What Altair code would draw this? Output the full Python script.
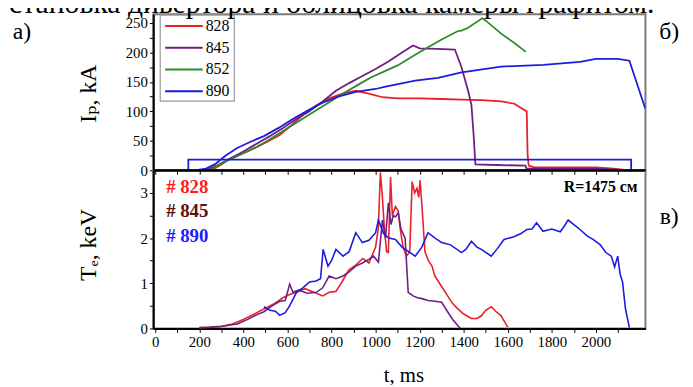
import altair as alt
import pandas as pd

# ---------------- data: plasma current Ip, kA ----------------
ip_828_t = [255, 300, 340, 400, 448, 500, 565, 620, 673, 730, 789, 850, 910, 969, 1031, 1100, 1200, 1300, 1390, 1480, 1570, 1630, 1659, 1686, 1690, 1695, 1720, 1800, 1900, 2000, 2080, 2150]
ip_828_v = [0, 10, 20, 29, 37, 47, 60, 77, 95, 110, 122, 130, 135, 130, 124, 122, 122, 121, 120, 119, 117, 113, 106, 100, 27, 8, 5, 5, 5, 5, 3, 0]

ip_845_t = [230, 280, 340, 400, 460, 520, 580, 640, 700, 760, 820, 880, 940, 1000, 1060, 1120, 1170, 1200, 1280, 1360, 1390, 1420, 1435, 1445, 1453, 1550, 1680, 1685, 1800, 2000, 2100]
ip_845_v = [0, 8, 20, 32, 45, 58, 72, 87, 100, 117, 135, 148, 160, 172, 185, 200, 212, 207, 206, 205, 175, 135, 111, 60, 10, 9, 8, 3, 3, 3, 1]

ip_852_t = [250, 300, 350, 400, 450, 500, 560, 620, 680, 740, 800, 860, 920, 980, 1040, 1100, 1180, 1238, 1300, 1372, 1390, 1420, 1484, 1500, 1570, 1630, 1682]
ip_852_v = [0, 12, 20, 29, 38, 48, 62, 76, 90, 104, 118, 132, 145, 158, 168, 178, 196, 209, 222, 236, 237, 242, 258, 254, 232, 216, 201]

ip_890_t = [180, 230, 270, 320, 372, 430, 493, 560, 628, 700, 762, 830, 910, 1000, 1045, 1180, 1283, 1390, 1500, 1570, 1762, 1928, 2000, 2100, 2152, 2224]
ip_890_v = [0, 3, 10, 25, 38, 48, 58, 72, 88, 103, 115, 125, 133, 138, 142, 152, 157, 166, 172, 176, 179, 184, 189, 189, 186, 105]

ip_890_box_t = [150, 150, 2160, 2160]
ip_890_box_v = [0, 18, 18, 0]

# ---------------- data: electron temperature Te, keV ----------------
te_828_t = [200, 250, 300, 350, 400, 450, 500, 540, 580, 610, 640, 680, 720, 760, 790, 820, 850, 879, 910, 942, 970, 1000, 1012, 1022, 1031, 1040, 1050, 1058, 1068, 1076, 1090, 1103, 1112, 1125, 1140, 1155, 1166, 1177, 1188, 1196, 1202, 1212, 1224, 1240, 1256, 1269, 1290, 1310, 1327, 1350, 1372, 1400, 1435, 1460, 1480, 1500, 1525, 1545, 1570, 1585, 1600]
te_828_v = [0, 0.02, 0.04, 0.1, 0.2, 0.32, 0.45, 0.55, 0.68, 0.75, 0.8, 0.88, 0.8, 0.72, 0.8, 0.82, 1.05, 1.3, 1.4, 1.55, 1.45, 1.8, 2.2, 3.45, 2.9, 2.2, 1.7, 1.68, 3.35, 2.5, 2.7, 2.6, 2.2, 1.8, 1.6, 1.7, 3.25, 3.0, 3.1, 2.9, 3.28, 2.6, 1.7, 1.5, 1.38, 1.16, 1.0, 0.85, 0.72, 0.55, 0.44, 0.32, 0.22, 0.22, 0.28, 0.4, 0.48, 0.38, 0.28, 0.15, 0.03]

te_845_t = [200, 250, 300, 372, 420, 460, 493, 530, 565, 590, 610, 625, 650, 690, 731, 760, 789, 820, 852, 880, 910, 940, 969, 990, 1013, 1031, 1045, 1058, 1070, 1080, 1090, 1103, 1115, 1134, 1148, 1170, 1190, 1211, 1238, 1270, 1300, 1327, 1350, 1372, 1385]
te_845_v = [0.02, 0.03, 0.05, 0.1, 0.2, 0.3, 0.37, 0.5, 0.6, 0.62, 0.98, 0.8, 0.85, 0.78, 0.8, 0.9, 1.16, 1.1, 1.16, 1.25, 1.38, 1.45, 1.53, 1.6, 1.47, 2.4, 2.0, 2.78, 2.3, 2.5, 2.47, 2.56, 2.2, 2.0, 0.8, 0.72, 0.68, 0.66, 0.62, 0.6, 0.58, 0.37, 0.2, 0.07, 0]

te_890_t = [493, 520, 545, 565, 590, 610, 641, 670, 700, 730, 750, 762, 784, 800, 820, 852, 880, 910, 940, 970, 1000, 1013, 1036, 1060, 1090, 1120, 1150, 1180, 1210, 1238, 1270, 1300, 1340, 1390, 1410, 1435, 1460, 1480, 1525, 1550, 1583, 1628, 1660, 1686, 1710, 1731, 1760, 1800, 1838, 1855, 1874, 1900, 1928, 1960, 1987, 2020, 2045, 2070, 2085, 2099, 2110, 2121, 2134, 2152]
te_890_v = [0.48, 0.4, 0.38, 0.29, 0.35, 0.5, 0.8, 0.9, 1.03, 1.05, 1.1, 1.75, 1.38, 1.5, 1.75, 1.6, 1.7, 2.12, 1.9, 1.95, 2.12, 2.4, 2.1, 2.0, 1.97, 1.8, 1.7, 1.6, 1.8, 2.12, 2.0, 1.9, 1.85, 1.68, 1.75, 1.93, 1.8, 1.75, 1.6, 1.75, 1.97, 2.03, 2.1, 2.19, 2.2, 2.34, 2.15, 2.2, 2.14, 2.25, 2.4, 2.3, 2.19, 2.05, 1.97, 1.85, 1.68, 1.6, 1.36, 1.6, 1.2, 1.03, 0.44, 0.02]

shots_top = ["828", "845", "852", "890"]
colors_top = ["#e8202a", "#6f1f7f", "#2e8b2e", "#1c1cdc"]
shots_bot = ["828", "845", "890"]
colors_bot = ["#ff1a1a", "#5c0f0f", "#1a1aff"]

x_ticks = list(range(0, 2101, 100))
ip_ticks = list(range(0, 251, 25))
te_ticks = [0, 0.5, 1, 1.5, 2, 2.5, 3]

FONT = "'Liberation Serif', 'Times New Roman', 'DejaVu Serif', serif"
W, H_TOP, H_BOT = 498, 158, 160


def frame(shot, part, ts, vs):
    return pd.DataFrame({"shot": shot, "part": part, "t": ts, "v": vs, "i": list(range(len(ts)))})


top_df = pd.concat([
    frame("828", "a", ip_828_t, ip_828_v),
    frame("845", "a", ip_845_t, ip_845_v),
    frame("852", "a", ip_852_t, ip_852_v),
    frame("890", "a", ip_890_t, ip_890_v),
    frame("890", "box", ip_890_box_t, ip_890_box_v),
])
bot_df = pd.concat([
    frame("828", "a", te_828_t, te_828_v),
    frame("845", "a", te_845_t, te_845_v),
    frame("890", "a", te_890_t, te_890_v),
])

xscale = alt.Scale(domain=[-9, 2225], nice=False, zero=False)
one = pd.DataFrame({"a": [0]})


def txt(text, x, y, size, color="black", weight="normal", align="left", baseline="middle"):
    return alt.Chart(one).mark_text(
        text=text, font=FONT, fontSize=size, fontWeight=weight, color=color,
        align=align, baseline=baseline,
    ).encode(x=alt.value(x), y=alt.value(y))


top_lines = alt.Chart(top_df).mark_line(strokeWidth=1.8, clip=True).encode(
    x=alt.X("t:Q", scale=xscale, axis=alt.Axis(
        values=x_ticks, labels=False, ticks=True, tickSize=4, tickColor="black",
        domainColor="black", domainWidth=2, grid=False, title=None)),
    y=alt.Y("v:Q", scale=alt.Scale(domain=[0, 265], nice=False), axis=alt.Axis(
        values=ip_ticks, labelExpr="datum.value % 50 == 0 ? format(datum.value, 'd') : ''",
        tickSize=4, tickColor="black", domainColor="black", domainWidth=2, grid=False,
        labelFont=FONT, labelFontSize=15, labelColor="black", labelPadding=2,
        title="Iₚ, kA", titleFont=FONT, titleFontSize=24, titleFontWeight="normal",
        titleColor="black", titleX=-65, titleY=80, titleAngle=270,
        titleAlign="center", titleBaseline="middle")),
    color=alt.Color("shot:N", scale=alt.Scale(domain=shots_top, range=colors_top), legend=None),
    detail="part:N",
    order="i:Q",
)

legend_layers = [
    alt.Chart(one).mark_rect(fill="white", stroke="#9a9a9a", strokeWidth=1.2).encode(
        x=alt.value(7), x2=alt.value(82), y=alt.value(1), y2=alt.value(88))
]
for k, (s, c) in enumerate(zip(shots_top, colors_top)):
    yy = 12 + 22 * k
    legend_layers.append(alt.Chart(one).mark_rule(color=c, strokeWidth=2).encode(
        x=alt.value(12), x2=alt.value(50), y=alt.value(yy)))
    legend_layers.append(txt(s, 53, yy, 16))

top_annot = [
    txt("Установка дивертора и облицовка камеры графитом.", 507, -1, 30, align="right", baseline="alphabetic"),
    txt("a)", -133, 18, 24, align="center"),
    txt("б)", 522, 18, 24, align="center"),
]

top = alt.layer(top_lines, *legend_layers, *top_annot).properties(width=W, height=H_TOP)

bot_lines = alt.Chart(bot_df).mark_line(strokeWidth=1.6, clip=True).encode(
    x=alt.X("t:Q", scale=xscale, axis=alt.Axis(
        values=x_ticks, labelExpr="datum.value % 200 == 0 ? format(datum.value, 'd') : ''",
        tickSize=4, tickColor="black", domainColor="black", domainWidth=2, grid=False,
        labelFont=FONT, labelFontSize=15, labelColor="black", labelPadding=2,
        title="t, ms", titleFont=FONT, titleFontSize=21, titleFontWeight="normal",
        titleColor="black", titleX=253, titleY=48, titleBaseline="middle")),
    y=alt.Y("v:Q", scale=alt.Scale(domain=[0, 3.5], nice=False), axis=alt.Axis(
        values=te_ticks, labelExpr="datum.value % 1 == 0 ? format(datum.value, 'd') : ''",
        tickSize=4, tickColor="black", domainColor="black", domainWidth=2, grid=False,
        labelFont=FONT, labelFontSize=15, labelColor="black", labelPadding=2,
        title="Tₑ, keV", titleFont=FONT, titleFontSize=24, titleFontWeight="normal",
        titleColor="black", titleX=-65, titleY=75, titleAngle=270,
        titleAlign="center", titleBaseline="middle")),
    color=alt.Color("shot:N", scale=alt.Scale(domain=shots_bot, range=colors_bot), legend=None),
    detail="part:N",
    order="i:Q",
)

top_edge = alt.Chart(one).mark_rule(color="black", strokeWidth=2).encode(
    x=alt.value(0), x2=alt.value(W), y=alt.value(0))

bot_annot = [
    txt("# 828", 13, 17, 19, color=colors_bot[0], weight="bold"),
    txt("# 845", 13, 41, 19, color=colors_bot[1], weight="bold"),
    txt("# 890", 13, 67, 19, color=colors_bot[2], weight="bold"),
    txt("R=1475 см", 490, 17, 16, weight="bold", align="right"),
    txt("в)", 522, 47, 24, align="center"),
]

bottom = alt.layer(bot_lines, top_edge, *bot_annot).properties(width=W, height=H_BOT)

# autosize "none": canvas width = plot width + left + right padding,
# canvas height = top padding + bottom padding (no height signal for concat).
chart = alt.vconcat(top, bottom, spacing=0, bounds="flush").properties(
    autosize=alt.AutoSizeParams(type="none"),
    padding={"left": 147, "top": 4, "right": 40, "bottom": 373},
    background="white",
).configure_view(stroke="#7a7a7a", strokeWidth=2)

chart.save("out.html", embed_options={"renderer": "svg", "actions": False})
